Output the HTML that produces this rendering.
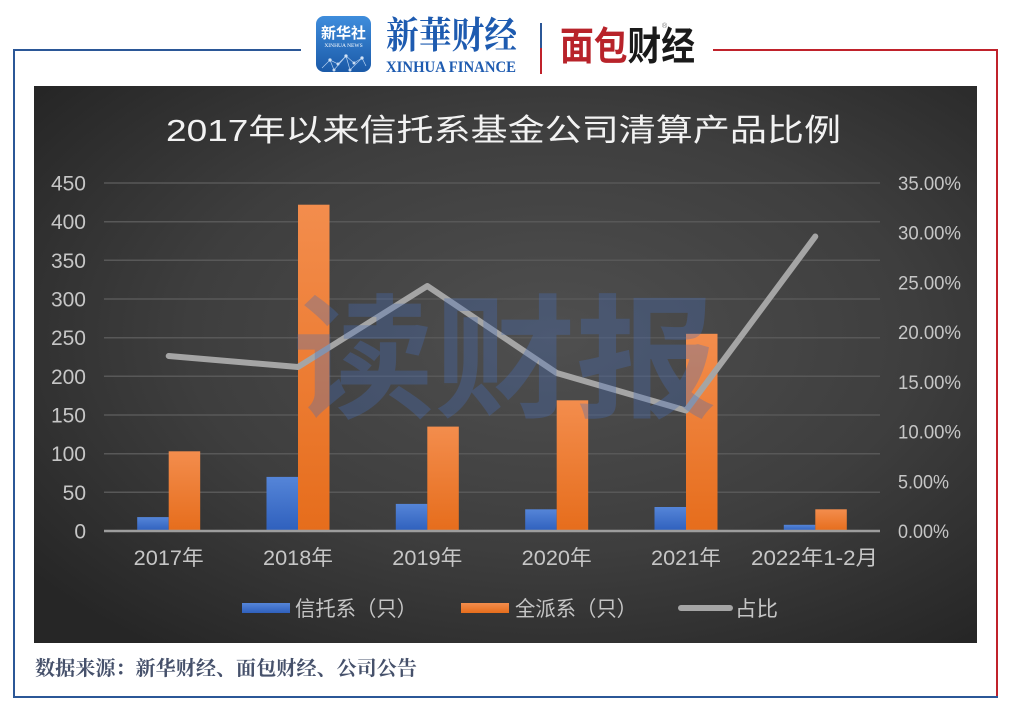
<!DOCTYPE html>
<html>
<head>
<meta charset="utf-8">
<style>
  html,body{margin:0;padding:0;background:#fff;}
  body{width:1012px;height:712px;overflow:hidden;}
  svg{display:block;}
  .cjk{font-family:"Liberation Sans","Noto Sans CJK SC",sans-serif;}
</style>
</head>
<body>
<svg width="1012" height="712" viewBox="0 0 1012 712" xmlns="http://www.w3.org/2000/svg">
  <defs>
    <radialGradient id="bg" cx="55%" cy="45%" r="70%">
      <stop offset="0%" stop-color="#4f4f4f"/>
      <stop offset="55%" stop-color="#3e3e3e"/>
      <stop offset="100%" stop-color="#262626"/>
    </radialGradient>
    <linearGradient id="gb" x1="0" y1="0" x2="0" y2="1">
      <stop offset="0%" stop-color="#5585d8"/>
      <stop offset="100%" stop-color="#2f60bd"/>
    </linearGradient>
    <linearGradient id="go" x1="0" y1="0" x2="0" y2="1">
      <stop offset="0%" stop-color="#f38d4d"/>
      <stop offset="100%" stop-color="#e66d1c"/>
    </linearGradient>
    <linearGradient id="logo" x1="0" y1="0" x2="0" y2="1">
      <stop offset="0%" stop-color="#3f8ddc"/>
      <stop offset="100%" stop-color="#1b5aa8"/>
    </linearGradient>
  </defs>

  <!-- frame -->
  <rect x="13" y="49" width="288" height="2" fill="#2b5797"/>
  <rect x="713" y="49" width="285" height="2" fill="#c0222b"/>
  <rect x="13" y="49" width="2" height="649" fill="#2b5797"/>
  <rect x="996" y="49" width="2" height="648" fill="#c0222b"/>
  <rect x="13" y="696" width="985" height="2" fill="#2b5797"/>

  <!-- header logos -->
  <rect x="316" y="16" width="55" height="56" rx="8" fill="url(#logo)"/>
  <text x="343.5" y="38" text-anchor="middle" class="cjk" font-size="15" font-weight="bold" fill="#fff">新华社</text>
  <text x="343.5" y="47" text-anchor="middle" font-family="Liberation Serif" font-size="5.5" fill="#fff">XINHUA NEWS</text>
  <g stroke="#cfe3fa" stroke-width="0.7" fill="#fff" opacity="0.85">
    <polyline points="322,68 330,60 338,64 346,56 354,63 362,58 366,66" fill="none"/>
    <polyline points="330,60 334,70 346,56 350,70 362,58" fill="none"/>
    <circle cx="330" cy="60" r="1.4"/><circle cx="338" cy="64" r="1.2"/>
    <circle cx="346" cy="56" r="1.4"/><circle cx="354" cy="63" r="1.2"/>
    <circle cx="362" cy="58" r="1.4"/><circle cx="334" cy="70" r="1.2"/>
    <circle cx="350" cy="70" r="1.2"/>
  </g>
  <text x="386" y="48" font-family="Liberation Serif,'Noto Serif CJK SC',serif" font-size="37" font-weight="bold" fill="#1e5bb0" textLength="131" lengthAdjust="spacingAndGlyphs">新華财经</text>
  <text x="386" y="72" font-family="Liberation Serif,serif" font-size="16" font-weight="bold" fill="#1e5bb0" textLength="130" lengthAdjust="spacingAndGlyphs">XINHUA FINANCE</text>
  <rect x="540" y="23" width="2" height="25" fill="#2b5797"/>
  <rect x="540" y="48" width="2" height="26" fill="#c0222b"/>
  <text x="560" y="60" class="cjk" font-size="39" font-weight="bold" textLength="135" lengthAdjust="spacingAndGlyphs"><tspan fill="#b8232a">面包</tspan><tspan fill="#1a1a1a">财经</tspan></text>
  <text x="662" y="28" font-family="Liberation Sans" font-size="7" fill="#777">®</text>

  <!-- chart panel -->
  <rect x="34" y="86" width="943" height="557" fill="url(#bg)"/>

  <!-- title -->
  <text x="166" y="141" class="cjk" font-size="31" fill="#f2f2f2" textLength="675" lengthAdjust="spacingAndGlyphs">2017年以来信托系基金公司清算产品比例</text>

  <!-- gridlines -->
  <g stroke="#585858" stroke-width="1.5">
    <line x1="104" y1="183" x2="880" y2="183"/>
    <line x1="104" y1="221.7" x2="880" y2="221.7"/>
    <line x1="104" y1="260.3" x2="880" y2="260.3"/>
    <line x1="104" y1="299" x2="880" y2="299"/>
    <line x1="104" y1="337.7" x2="880" y2="337.7"/>
    <line x1="104" y1="376.3" x2="880" y2="376.3"/>
    <line x1="104" y1="415" x2="880" y2="415"/>
    <line x1="104" y1="453.7" x2="880" y2="453.7"/>
    <line x1="104" y1="492.3" x2="880" y2="492.3"/>
  </g>

  <!-- left axis labels -->
  <g font-family="Liberation Sans,sans-serif" font-size="21" fill="#c6c6c6" text-anchor="end">
    <text x="86" y="190.5">450</text>
    <text x="86" y="229.2">400</text>
    <text x="86" y="267.8">350</text>
    <text x="86" y="306.5">300</text>
    <text x="86" y="345.2">250</text>
    <text x="86" y="383.8">200</text>
    <text x="86" y="422.5">150</text>
    <text x="86" y="461.2">100</text>
    <text x="86" y="499.8">50</text>
    <text x="86" y="538.5">0</text>
  </g>
  <!-- right axis labels -->
  <g font-family="Liberation Sans,sans-serif" font-size="19" fill="#c6c6c6">
    <text x="898" y="190" textLength="63" lengthAdjust="spacingAndGlyphs">35.00%</text>
    <text x="898" y="239.7" textLength="63" lengthAdjust="spacingAndGlyphs">30.00%</text>
    <text x="898" y="289.4" textLength="63" lengthAdjust="spacingAndGlyphs">25.00%</text>
    <text x="898" y="339.1" textLength="63" lengthAdjust="spacingAndGlyphs">20.00%</text>
    <text x="898" y="388.9" textLength="63" lengthAdjust="spacingAndGlyphs">15.00%</text>
    <text x="898" y="438.6" textLength="63" lengthAdjust="spacingAndGlyphs">10.00%</text>
    <text x="898" y="488.3" textLength="51" lengthAdjust="spacingAndGlyphs">5.00%</text>
    <text x="898" y="538" textLength="51" lengthAdjust="spacingAndGlyphs">0.00%</text>
  </g>

  <!-- bars -->
  <g>
    <rect x="137.2" y="517.1" width="31.5" height="13.9" fill="url(#gb)"/>
    <rect x="168.7" y="451.3" width="31.5" height="79.7" fill="url(#go)"/>
    <rect x="266.5" y="476.9" width="31.5" height="54.1" fill="url(#gb)"/>
    <rect x="298" y="204.7" width="31.5" height="326.3" fill="url(#go)"/>
    <rect x="395.8" y="503.9" width="31.5" height="27.1" fill="url(#gb)"/>
    <rect x="427.3" y="426.6" width="31.5" height="104.4" fill="url(#go)"/>
    <rect x="525.2" y="509.3" width="31.5" height="21.7" fill="url(#gb)"/>
    <rect x="556.7" y="400.3" width="31.5" height="130.7" fill="url(#go)"/>
    <rect x="654.5" y="507" width="31.5" height="24" fill="url(#gb)"/>
    <rect x="686" y="333.8" width="31.5" height="197.2" fill="url(#go)"/>
    <rect x="783.8" y="524.8" width="31.5" height="6.2" fill="url(#gb)"/>
    <rect x="815.3" y="509.3" width="31.5" height="21.7" fill="url(#go)"/>
  </g>

  <!-- axis line -->
  <line x1="104" y1="531" x2="880" y2="531" stroke="#9d9d9d" stroke-width="2.5"/>

  <!-- line series -->
  <polyline points="168.7,356 298,367 427.3,286 556.7,373 686,410.5 815.3,236.5" fill="none" stroke="#a5a5a5" stroke-width="6" stroke-linejoin="round" stroke-linecap="round"/>

  <!-- watermark -->
  <text x="293" y="407" class="cjk" font-size="134" font-weight="bold" fill="rgb(70,110,185)" fill-opacity="0.33" textLength="424" lengthAdjust="spacingAndGlyphs">读财报</text>

  <!-- category labels -->
  <g class="cjk" font-size="21" fill="#c6c6c6" text-anchor="middle">
    <text x="168.7" y="565" textLength="70" lengthAdjust="spacingAndGlyphs">2017年</text>
    <text x="298" y="565" textLength="70" lengthAdjust="spacingAndGlyphs">2018年</text>
    <text x="427.3" y="565" textLength="70" lengthAdjust="spacingAndGlyphs">2019年</text>
    <text x="556.7" y="565" textLength="70" lengthAdjust="spacingAndGlyphs">2020年</text>
    <text x="686" y="565" textLength="70" lengthAdjust="spacingAndGlyphs">2021年</text>
    <text x="814.5" y="565" textLength="127" lengthAdjust="spacingAndGlyphs">2022年1-2月</text>
  </g>

  <!-- legend -->
  <rect x="242" y="603" width="48" height="10" fill="url(#gb)"/>
  <text x="295" y="616" class="cjk" font-size="21" fill="#c6c6c6" textLength="122" lengthAdjust="spacingAndGlyphs">信托系（只）</text>
  <rect x="461" y="603" width="48" height="10" fill="url(#go)"/>
  <text x="515" y="616" class="cjk" font-size="21" fill="#c6c6c6" textLength="122" lengthAdjust="spacingAndGlyphs">全派系（只）</text>
  <line x1="681" y1="608" x2="730" y2="608" stroke="#a5a5a5" stroke-width="6" stroke-linecap="round"/>
  <text x="735" y="616" class="cjk" font-size="21" fill="#c6c6c6" textLength="43" lengthAdjust="spacingAndGlyphs">占比</text>

  <!-- footer -->
  <text x="35" y="675" font-family="Liberation Serif,'Noto Serif CJK SC',serif" font-size="20" font-weight="bold" fill="#46516b" textLength="382" lengthAdjust="spacingAndGlyphs">数据来源：新华财经、面包财经、公司公告</text>
</svg>
</body>
</html>
